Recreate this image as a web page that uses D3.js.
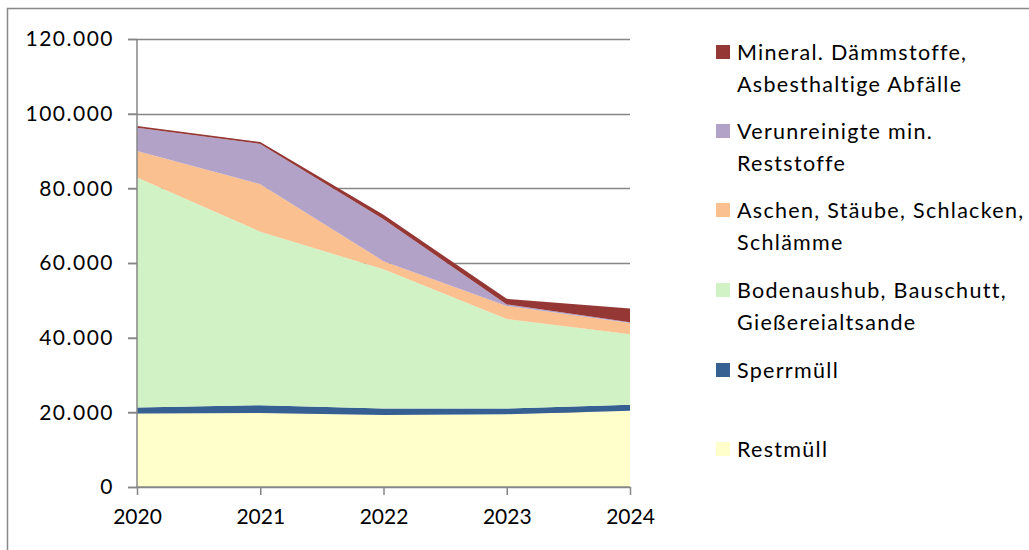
<!DOCTYPE html>
<html>
<head>
<meta charset="utf-8">
<script src="https://cdn.jsdelivr.net/npm/d3@7"></script>
<style>
  body { margin: 0; background: #fff; }
  svg { display: block; font-family: Lato, "Noto Sans", sans-serif; }
</style>
</head>
<body>
<div id="chart"></div>
<script>
// years on the x axis
const years = [2020, 2021, 2022, 2023, 2024];

// series values (t), bottom of stack first
const restmuell   = [19700, 19800, 19300, 19500, 20400];
const sperrmuell  = [1600, 2100, 1700, 1500, 1600];
const bodenaushub = [61600, 46500, 37300, 24000, 18900];
const aschen      = [7100, 12700, 2200, 3500, 3000];
const verunrein   = [6200, 10800, 11200, 400, 200];
const mineral     = [500, 500, 1200, 1500, 3700];

const yTicks = [0, 20000, 40000, 60000, 80000, 100000, 120000];

const seriesNames = [
  ["Restmüll"],
  ["Sperrmüll"],
  ["Bodenaushub, Bauschutt,", "Gießereialtsande"],
  ["Aschen, Stäube, Schlacken,", "Schlämme"],
  ["Verunreinigte min.", "Reststoffe"],
  ["Mineral. Dämmstoffe,", "Asbesthaltige Abfälle"]
];
const seriesValues = [restmuell, sperrmuell, bodenaushub, aschen, verunrein, mineral];
const colors = ["#ffffcc", "#376092", "#d1f2c5", "#fac090", "#b3a2c7", "#953735"];

// build table for d3.stack
let table = years.map((y, i) => {
  let row = {year: y};
  seriesValues.forEach((s, k) => { row["s" + k] = s[i]; });
  return row;
});
let keys = seriesValues.map((s, k) => "s" + k);

const width = 1029, height = 550;
let svg = d3.select("#chart").append("svg")
  .attr("width", width)
  .attr("height", height);

// outer frame
svg.append("path")
  .attr("d", "M7.5,550 L7.5,8.5 L1029,8.5")
  .attr("fill", "none")
  .attr("stroke", "#888")
  .attr("stroke-width", 1.5);

let x = d3.scaleLinear().domain([2020, 2024]).range([137, 630]);
let y = d3.scaleLinear().domain([0, 120000]).range([487, 39]);

// gridlines
svg.append("g")
  .selectAll("line")
  .data(yTicks)
  .enter()
  .append("line")
  .attr("x1", 128)
  .attr("x2", 630)
  .attr("y1", d => Math.round(y(d)) + 0.5)
  .attr("y2", d => Math.round(y(d)) + 0.5)
  .attr("stroke", "#868686")
  .attr("stroke-width", 1.5);

// stacked areas
let stack = d3.stack().keys(keys);
let layers = stack(table);

let area = d3.area()
  .x(d => x(d.data.year))
  .y0(d => y(d[0]))
  .y1(d => y(d[1]));

svg.append("g")
  .selectAll("path")
  .data(layers)
  .enter()
  .append("path")
  .attr("d", area)
  .attr("fill", (d, i) => colors[i]);

// y axis
let yAxis = d3.axisLeft(y)
  .tickValues(yTicks)
  .tickSize(9)
  .tickPadding(14)
  .tickFormat(d => d3.format(",")(d).replace(/,/g, "."));

let gy = svg.append("g")
  .attr("transform", "translate(137,0)")
  .call(yAxis);

// x axis
let xAxis = d3.axisBottom(x)
  .tickValues(years)
  .tickSize(8)
  .tickPadding(14)
  .tickFormat(d3.format("d"));

let gx = svg.append("g")
  .attr("transform", "translate(0,487)")
  .call(xAxis);

[gx, gy].forEach(g => {
  g.selectAll(".domain, .tick line")
    .attr("stroke", "#868686")
    .attr("stroke-width", 1.5);
  g.selectAll(".tick text")
    .attr("fill", "#000")
    .style("font-size", "21px")
    .style("font-family", "Lato, sans-serif");
});
gy.selectAll(".tick text").style("letter-spacing", "1.5px");
gy.select(".domain").attr("d", "M0,487V39");
gx.select(".domain").attr("d", "M137,0H630");

//--------------------------------------------------
// legend
//--------------------------------------------------
const legendY = [52, 131, 210, 290, 370, 449]; // top to bottom
let legendOrder = [5, 4, 3, 2, 1, 0];

let legend = svg.append("g");
legendOrder.forEach((k, j) => {
  let ly = legendY[j];
  legend.append("rect")
    .attr("x", 716)
    .attr("y", ly - 7)
    .attr("width", 14)
    .attr("height", 14)
    .attr("fill", colors[k]);
  let t = legend.append("text")
    .attr("x", 737)
    .attr("y", ly)
    .style("font-size", "21.5px")
    .style("letter-spacing", "1.3px")
    .attr("fill", "#000");
  seriesNames[k].forEach((line, li) => {
    t.append("tspan")
      .attr("x", 737)
      .attr("dy", li == 0 ? "0.36em" : "32px")
      .text(line);
  });
});
</script>
</body>
</html>
